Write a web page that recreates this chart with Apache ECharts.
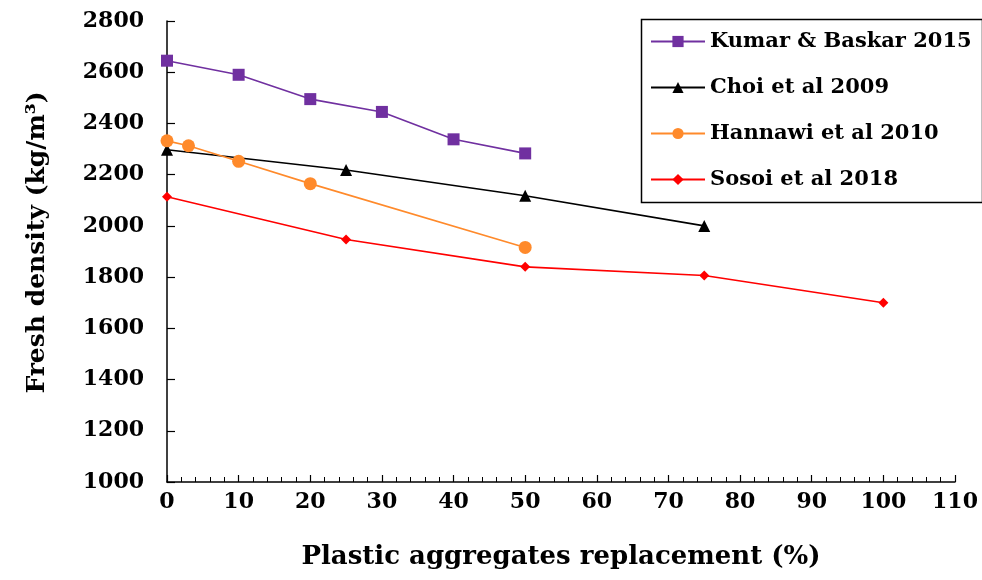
<!DOCTYPE html>
<html>
<head>
<meta charset="utf-8">
<script src="https://cdn.jsdelivr.net/npm/echarts@6/dist/echarts.min.js"></script>
<style>html,body{margin:0;padding:0;background:#fff;}#c{width:982px;height:580px;}</style>
</head>
<body>
<div id="c"></div>
<script>
const seriesNames = ['Kumar & Baskar 2015', 'Choi et al 2009', 'Hannawi et al 2010', 'Sosoi et al 2018'];
const kumarX = [0, 10, 20, 30, 40, 50];
const kumarY = [2645, 2590, 2495, 2445, 2338, 2283];
const choiX = [0, 25, 50, 75];
const choiY = [2297, 2218, 2118, 2000];
const hannawiX = [0, 3, 10, 20, 50];
const hannawiY = [2332, 2313, 2252, 2165, 1916];
const sosoiX = [0, 25, 50, 75, 100];
const sosoiY = [2114, 1947, 1840, 1806, 1700];

const xTitle = 'Plastic aggregates replacement (%)';
const yTitle = 'Fresh density (kg/m\u00B3)';

function pairs(xs, ys) { return xs.map((x, i) => [x, ys[i]]); }

const FONT = 'DejaVu Serif';
const chart = echarts.init(document.getElementById('c'), null, {renderer: 'canvas'});
const seriesStyle = [
  {color: '#7030A0', symbol: 'rect', size: 12, x: kumarX, y: kumarY},
  {color: '#000000', symbol: 'triangle', size: 12, x: choiX, y: choiY},
  {color: '#FF8A2B', symbol: 'circle', size: 13, x: hannawiX, y: hannawiY},
  {color: '#FF0000', symbol: 'diamond', size: 10, x: sosoiX, y: sosoiY}
];
const option = {
  backgroundColor: '#fff',
  animation: false,
  grid: {left: 167, top: 21, right: 27, bottom: 98, containLabel: false},
  xAxis: {
    type: 'value', min: 0, max: 110, interval: 10,
    axisLine: {lineStyle: {color: '#000', width: 1.5}},
    axisTick: {inside: true, length: 7, lineStyle: {color: '#000', width: 1.2}},
    minorTick: {show: true, splitNumber: 5, length: 5, lineStyle: {color: '#000', width: 1}},
    splitLine: {show: false},
    axisLabel: {fontFamily: FONT, fontWeight: 'bold', fontSize: 22, color: '#000', margin: 9},
    name: xTitle, nameLocation: 'middle', nameGap: 62,
    nameTextStyle: {fontFamily: FONT, fontWeight: 'bold', fontSize: 26, color: '#000'}
  },
  yAxis: {
    type: 'value', min: 1000, max: 2800, interval: 200,
    axisLine: {show: true, lineStyle: {color: '#000', width: 1.5}},
    axisTick: {show: true, inside: true, length: 8, lineStyle: {color: '#000', width: 1.2}},
    splitLine: {show: false},
    axisLabel: {fontFamily: FONT, fontWeight: 'bold', fontSize: 22, color: '#000', margin: 23,
      formatter: v => String(v)},
    name: yTitle, nameLocation: 'middle', nameGap: 117, nameRotate: 90,
    nameTextStyle: {fontFamily: FONT, fontWeight: 'bold', fontSize: 25, color: '#000',
      padding: [0, 0, 0, 18]}
  },
  legend: {
    orient: 'vertical', left: 645, top: 26,
    itemWidth: 54, itemHeight: 14, itemGap: 25,
    textStyle: {fontFamily: FONT, fontWeight: 'bold', fontSize: 21, color: '#000', lineHeight: 20},
    data: seriesNames
  },
  graphic: [{
    type: 'rect', left: 639, top: 17, z: 0,
    shape: {width: 341, height: 183},
    style: {fill: 'none', stroke: '#000', lineWidth: 1.5}
  }],
  series: seriesStyle.map((s, i) => ({
    name: seriesNames[i], type: 'line',
    data: pairs(s.x, s.y),
    symbol: s.symbol, symbolSize: s.size,
    lineStyle: {color: s.color, width: 1.6},
    itemStyle: {color: s.color},
    showAllSymbol: true
  }))
};
chart.setOption(option);
</script>
</body>
</html>
